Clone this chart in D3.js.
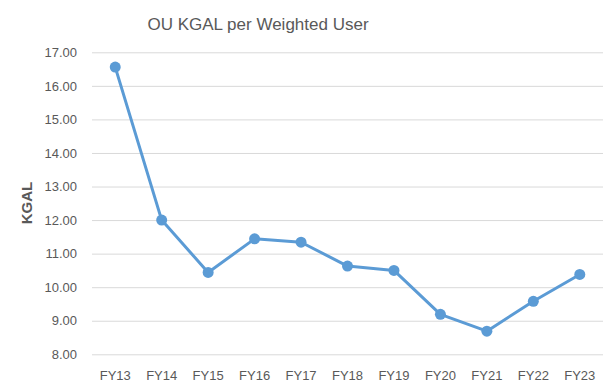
<!DOCTYPE html>
<html><head><meta charset="utf-8">
<script src="https://cdn.jsdelivr.net/npm/d3@7"></script>
<style>body{margin:0;background:#fff;} svg{display:block;}</style>
</head><body>
<script>
const categories = ["FY13","FY14","FY15","FY16","FY17","FY18","FY19","FY20","FY21","FY22","FY23"];
const values = [16.56, 12.00, 10.44, 11.44, 11.34, 10.63, 10.50, 9.19, 8.69, 9.58, 10.38];
const yTicks = [8,9,10,11,12,13,14,15,16,17];
const title = "OU KGAL per Weighted User";
const yLabel = "KGAL";

(function(){
const W = 615, H = 389;
const svg = d3.select("body").append("svg").attr("width", W).attr("height", H);
const mLeft = 92, mRight = 603, mTop = 52.3, mBottom = 354.3;
const x = d3.scaleBand().domain(categories).range([mLeft, mRight]).padding(0);
const y = d3.scaleLinear().domain([8, 17]).range([mBottom, mTop]);
const font = "'Liberation Sans', Arial, sans-serif";
const gray = "#595959";

svg.append("text").attr("x", 258).attr("y", 30).attr("text-anchor", "middle")
  .attr("font-family", font).attr("font-size", 17).attr("fill", gray).text(title);

const yAxis = d3.axisLeft(y).tickValues(yTicks).tickSize(-(mRight - mLeft)).tickPadding(15).tickFormat(d3.format(".2f"));
const gy = svg.append("g").attr("transform", `translate(${mLeft},0)`).call(yAxis);
gy.select(".domain").remove();
gy.selectAll("line").attr("stroke", "#d9d9d9").attr("stroke-width", 1);
gy.selectAll("text").attr("font-family", font).attr("font-size", 13).attr("fill", gray);

const xAxis = d3.axisBottom(x).tickSize(0).tickPadding(0);
const gx = svg.append("g").attr("transform", `translate(0,${mBottom})`).call(xAxis);
gx.select(".domain").remove();
gx.selectAll("text").attr("font-family", font).attr("font-size", 13).attr("fill", gray).attr("dy", 0).attr("y", 26);

svg.append("text").attr("transform", `translate(32,203) rotate(-90)`).attr("text-anchor", "middle")
  .attr("font-family", font).attr("font-size", 15).attr("font-weight", "bold").attr("fill", gray).text(yLabel);

const cx = d => x(d) + x.bandwidth() / 2;
const line = d3.line().x((d, i) => cx(categories[i])).y(d => y(d));
svg.append("path").datum(values).attr("d", line).attr("fill", "none")
  .attr("stroke", "#5B9BD5").attr("stroke-width", 3).attr("stroke-linejoin", "round");
svg.selectAll("circle.pt").data(values).enter().append("circle").attr("class", "pt")
  .attr("cx", (d, i) => cx(categories[i])).attr("cy", d => y(d)).attr("r", 5.5).attr("fill", "#5B9BD5");
})();
</script>
</body></html>
